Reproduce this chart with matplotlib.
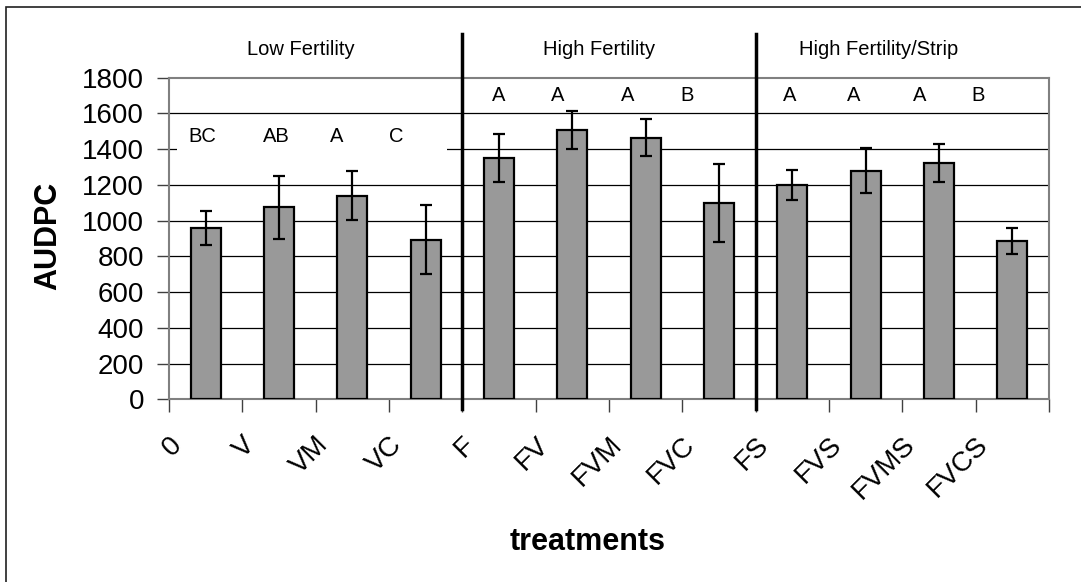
import matplotlib
matplotlib.use("Agg")
import matplotlib.pyplot as plt
from matplotlib.patches import Rectangle
from matplotlib.transforms import ScaledTranslation, blended_transform_factory

plt.rcParams['font.family'] = ['Liberation Sans', 'DejaVu Sans']

# data
treatments = ['0', 'V', 'VM', 'VC', 'F', 'FV', 'FVM', 'FVC',
              'FS', 'FVS', 'FVMS', 'FVCS']
audpc = [958, 1075, 1140, 892, 1350, 1505, 1465, 1097, 1200, 1280, 1322, 886]
err = [96, 175, 138, 193, 135, 106, 102, 219, 83, 128, 105, 74]

groups = ['Low Fertility', 'High Fertility', 'High Fertility/Strip']
group_centers = [1.3, 5.37, 9.17]
separators = [3.5, 7.5]

letters = ['BC', 'AB', 'A', 'C', 'A', 'A', 'A', 'B', 'A', 'A', 'A', 'B']
letter_x = [-0.04, 0.96, 1.79, 2.60, 4.0, 4.80, 5.76, 6.57,
            7.96, 8.84, 9.73, 10.53]
letter_y = [1470] * 4 + [1700] * 8

fig = plt.figure(figsize=(10.81, 5.82), dpi=100)
ax = fig.add_axes([169 / 1081, 1 - 399.3 / 582, 880 / 1081, 321.6 / 582])

x = list(range(len(treatments)))
ax.bar(x, audpc, width=0.41, color='#999999', edgecolor='black',
       linewidth=1.6, zorder=3)
ax.errorbar(x, audpc, yerr=err, fmt='none', ecolor='black', elinewidth=1.6,
            capsize=4.5, capthick=1.6, zorder=4)

ax.set_xlim(-0.5, len(treatments) - 0.5)
ax.set_ylim(0, 1800)
ax.set_yticks(range(0, 1801, 200))

for yv in range(200, 1800, 200):
    ax.axhline(yv, color='black', lw=0.9, zorder=1)

# white box behind the low fertility letters
ax.add_patch(Rectangle((-0.39, 1330), 3.68, 230, facecolor='white',
                       edgecolor='none', zorder=2))

for s in ax.spines.values():
    s.set_color('#808080')
    s.set_linewidth(1.5)

ax.tick_params(axis='y', direction='out', length=9, width=1, color='#404040',
               labelsize=20, pad=9)
ax.set_xticks(x)
ax.set_xticks([i + 0.5 for i in range(-1, len(treatments))], minor=True)
ax.tick_params(axis='x', which='major', length=0, pad=30, labelsize=20)
ax.tick_params(axis='x', which='minor', direction='out', length=9, width=1,
               color='#404040')
ax.set_xticklabels(treatments, rotation=45, ha='right', va='center',
                   rotation_mode='anchor')
shift = ScaledTranslation(-28 / 100, 0, fig.dpi_scale_trans)
for lbl in ax.get_xticklabels():
    lbl.set_transform(lbl.get_transform() + shift)

trans = blended_transform_factory(ax.transData, ax.transAxes)
for sx in separators:
    ax.plot([sx, sx], [-0.03, 1.136], color='black', lw=2.5,
            transform=trans, clip_on=False, zorder=5)

for name, cx in zip(groups, group_centers):
    ax.text(cx, 1.089, name, transform=trans, ha='center', va='center',
            fontsize=14.5)

for lt, lx, ly in zip(letters, letter_x, letter_y):
    ax.text(lx, ly, lt, ha='center', va='center', fontsize=14.5, zorder=6)

fig.text(588 / 1081, 1 - 542 / 582, 'treatments', ha='center', va='center',
         fontsize=22, fontweight='bold')
fig.text(48 / 1081, 1 - 236 / 582, 'AUDPC', ha='center', va='center',
         fontsize=22, fontweight='bold', rotation=90)

# outer chart border (only left and top visible in the crop)
fig.patches.append(Rectangle((6 / 1081, -0.1), 2, 1.1 - 7 / 582,
                             transform=fig.transFigure, fill=False,
                             edgecolor='#202020', lw=1.2))

fig.savefig('out.png', dpi=100)
